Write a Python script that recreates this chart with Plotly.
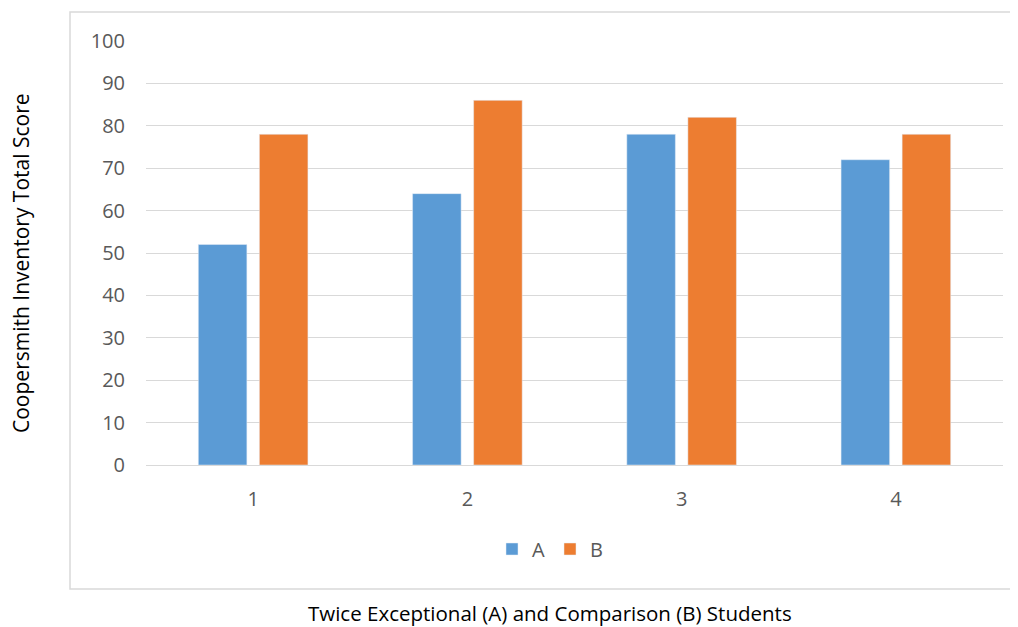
import plotly.graph_objects as go

categories = ["1", "2", "3", "4"]
series_a = [52, 64, 78, 72]
series_b = [78, 86, 82, 78]
y_ticks = [0, 10, 20, 30, 40, 50, 60, 70, 80, 90, 100]

FONT = "Open Sans"
OFF = 8  # page body margin
W, H = 1010, 619
L, T = 146 - OFF, 41 - OFF
pw, ph = 857, 424
R, B = W - L - pw, H - T - ph

def px(x):
    return (x - OFF - L) / pw

def py(y):
    return (T + ph - (y - OFF)) / ph

fig = go.Figure()
fig.add_trace(go.Bar(name="A", x=categories, y=series_a, marker_color="#5b9bd5"))
fig.add_trace(go.Bar(name="B", x=categories, y=series_b, marker_color="#ed7d31"))

fig.update_layout(
    width=W, height=H,
    margin=dict(l=L, r=R, t=T, b=B),
    paper_bgcolor="white", plot_bgcolor="white",
    barmode="group", bargap=0.43, bargroupgap=0.205,
    font=dict(family=FONT, size=20, color="#595959"),
    showlegend=True,
    legend=dict(orientation="h", x=px(550), xanchor="center", y=py(549), yanchor="middle",
                font=dict(size=20, color="#595959"), traceorder="normal"),
)
fig.update_xaxes(showgrid=False, showline=True, linecolor="#d9d9d9", linewidth=1,
                 ticks="", ticklabelstandoff=16, tickfont=dict(size=20, color="#595959"))
fig.update_yaxes(range=[0, 100], tickvals=y_ticks, showgrid=True, gridcolor="#d9d9d9",
                 gridwidth=1, zeroline=False, showline=False, ticks="",
                 ticklabelstandoff=20, tickfont=dict(size=20, color="#595959"))

fig.add_shape(type="rect", xref="paper", yref="paper",
              x0=px(70), x1=px(1030), y0=py(589), y1=py(12),
              line=dict(color="#d9d9d9", width=1.5), fillcolor="rgba(0,0,0,0)", layer="below")

fig.add_annotation(text="Coopersmith Inventory Total Score", xref="paper", yref="paper",
                   x=px(21), y=py(263), xanchor="center", yanchor="middle",
                   textangle=-90, showarrow=False, borderpad=0,
                   font=dict(size=21, color="black", family=FONT))
fig.add_annotation(text="Twice Exceptional (A) and Comparison (B) Students", xref="paper", yref="paper",
                   x=px(550), y=py(613), xanchor="center", yanchor="middle", showarrow=False,
                   borderpad=0, font=dict(size=20.5, color="black", family=FONT))

fig.write_html("out.html")
